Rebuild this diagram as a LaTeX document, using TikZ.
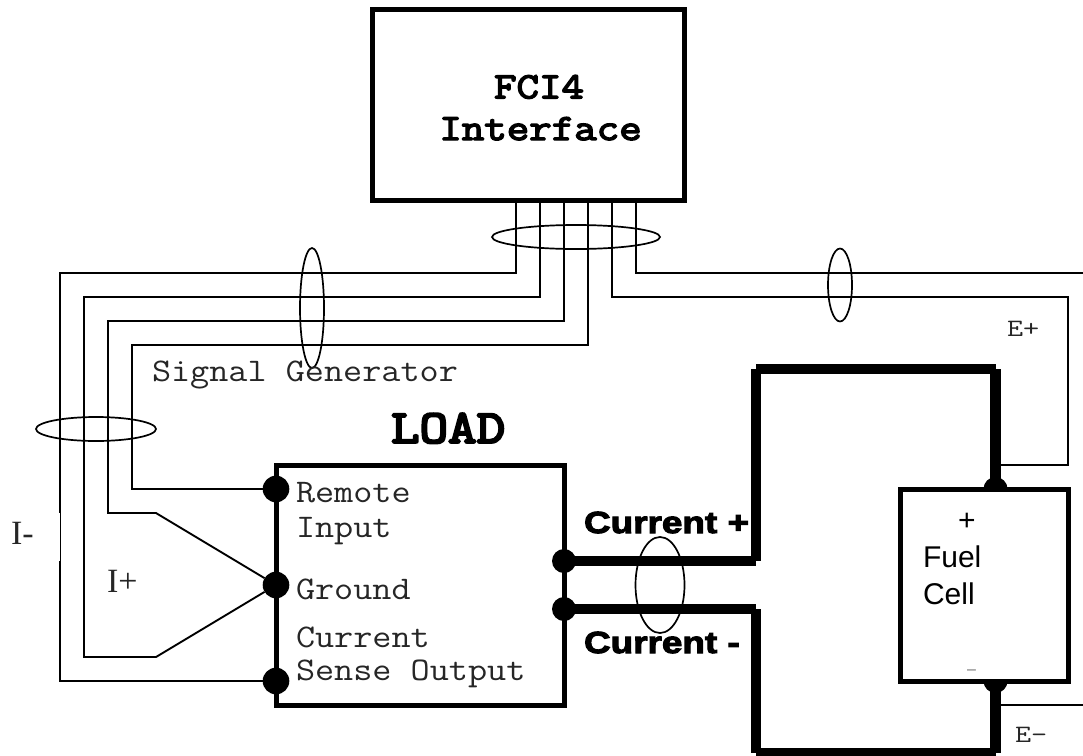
\documentclass[tikz,border=0pt]{standalone}
\usepackage{fontspec}
\newfontfamily\cour[FakeStretch=1.125]{Latin Modern Mono}
\newfontfamily\courE[FakeStretch=1.25]{Latin Modern Mono}
\newfontfamily\courB[FakeStretch=1.18,FakeBold=4]{Latin Modern Mono}
\newfontfamily\courL[FakeStretch=1.18,FakeBold=5]{Latin Modern Mono}
\newfontfamily\arialk[FakeStretch=1.21,FakeBold=3.5]{Liberation Sans Bold}
\newfontfamily\arialr{Liberation Sans}
\newfontfamily\timesr{Liberation Serif}
\tikzset{
  wire/.style={line width=1.9pt,line join=miter,black},
  power/.style={line width=10.6pt,line cap=butt,black},
  boxed/.style={draw=black,fill=white,line width=5pt,inner sep=0pt,outer sep=0pt,rectangle},
  blob/.style={circle,fill=black,inner sep=0pt,outer sep=0pt},
  ringline/.style={line width=1.7pt,black},
  lab/.style={anchor=base west,inner sep=0pt,outer sep=0pt,text=black},
  monolab/.style={lab,font=\cour\fontsize{33}{33}\selectfont,text=black!85},
  boldlab/.style={lab,font=\courB\fontsize{37}{37}\selectfont},
  curlab/.style={lab,font=\arialk\fontsize{30.5}{30.5}\selectfont},
  cell/.style={lab,font=\arialr\fontsize{30}{30}\selectfont},
  serif/.style={lab,font=\timesr\fontsize{34}{34}\selectfont,text=black!85},
  elab/.style={lab,font=\courE\fontsize{25}{25}\selectfont,text=black!85}
}
\begin{document}
\begin{tikzpicture}[x=1pt,y=-1pt]
\useasboundingbox (0,0) rectangle (1083,755);
\clip (0,0) rectangle (1083,755);
\fill[white] (0,0) rectangle (1083,755);

% boxes
\node[boxed,minimum width=312pt,minimum height=191pt] (iface) at (528,105) {};
\node[boxed,minimum width=288pt,minimum height=239.5pt] (load) at (420,585.3) {};

% dots
\node[blob,minimum size=26.6pt] (remote) at (276,489) {};
\node[blob,minimum size=26.6pt] (ground) at (276,585) {};
\node[blob,minimum size=26.6pt] (sense) at (276,681) {};
\node[blob,minimum size=24pt] (curp) at (564,561) {};
\node[blob,minimum size=24pt] (curm) at (564,609) {};
\node[blob,minimum size=24pt] (fcp) at (995.5,489) {};
\node[blob,minimum size=24pt] (fcm) at (995.5,681) {};

% bend and end points
\coordinate (p1) at (516,201); \coordinate (p2) at (540,201); \coordinate (p3) at (564,201);
\coordinate (p4) at (588,201); \coordinate (p5) at (612,201); \coordinate (p6) at (636,201);
\coordinate (ep) at (1083,273);
\coordinate (em) at (1083,705);
\coordinate (tapp) at (995.5,465);
\coordinate (tapm) at (995.5,705);

% signal wires
\draw[wire] (p1) -- (516,273) -- (60,273) -- (60,681) -- (sense);
\draw[wire] (p2) -- (540,297) -- (84,297) -- (84,657) -- (156,657) -- (ground);
\draw[wire] (p3) -- (564,321) -- (108,321) -- (108,513) -- (156,513) -- (ground);
\draw[wire] (p4) -- (588,345) -- (132,345) -- (132,489) -- (remote);
\draw[wire] (p5) -- (612,297) -- (1068,297) -- (1068,465) -- (tapp);
\draw[wire] (p6) -- (636,273) -- (ep);
\draw[wire] (tapm) -- (em);

% white patch beside the I- label
\fill[white] (20,513) rectangle (60.1,561);

% power leads
\draw[power] (curp.center) -- (756,561);
\draw[power] (756,561) -- (756,369);
\draw[power] (756,369) -- (995.5,369);
\draw[power] (995.5,369) -- (fcp.center);
\draw[power] (curm.center) -- (756,609);
\draw[power] (756,609) -- (756,753);
\draw[power] (756,753) -- (995.5,753);
\draw[power] (995.5,753) -- (fcm.center);

% fuel cell
\node[boxed,minimum width=168pt,minimum height=192pt] (fc) at (984,585) {};

% cable rings
\draw[ringline] (576,237) ellipse [x radius=84,y radius=12];
\draw[ringline] (312,308) ellipse [x radius=12,y radius=60];
\draw[ringline] (840,285) ellipse [x radius=12,y radius=36.5];
\draw[ringline] (96,429) ellipse [x radius=60,y radius=12];
\draw[ringline] (660,585) ellipse [x radius=24.5,y radius=48];

% labels
\node[boldlab,anchor=base] (t1) at (539,98.3) {FCI4};
\node[boldlab,anchor=base] (t2) at (540.5,140) {Interface};
\node[lab,font=\courL\fontsize{47}{47}\selectfont] (t3) at (391,442.7) {LOAD};
\node[monolab] (t4) at (152,381.7) {Signal Generator};
\node[monolab] (t5) at (296,502.7) {Remote};
\node[monolab] (t6) at (296,537.3) {Input};
\node[monolab] (t7) at (296,599.3) {Ground};
\node[monolab] (t8) at (296,647.3) {Current};
\node[monolab] (t9) at (296,680.7) {Sense Output};
\node[curlab] (t10) at (584,533) {Current +};
\node[curlab] (t11) at (584,653) {Current -};
\node[cell] (t12) at (923,567.3) {Fuel};
\node[cell] (t13) at (923,604.7) {Cell};
\node[lab,font=\arialr\fontsize{30}{30}\selectfont] (t14) at (958,530) {+};
\node[lab,font=\arialr\fontsize{16}{16}\selectfont,text=black!55] (t15) at (967,674) {–};
\node[serif] (t16) at (11,544) {I-};
\node[serif] (t17) at (107,592) {I+};
\node[elab] (t18) at (1007,336) {E+};
\node[elab] (t19) at (1015,742.7) {E-};
\end{tikzpicture}
\end{document}
